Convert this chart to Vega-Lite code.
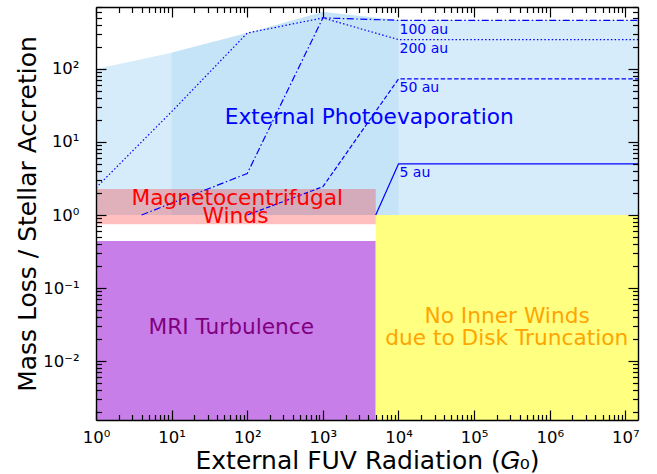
{
  "$schema": "https://vega.github.io/schema/vega-lite/v6.json",
  "width": 542,
  "height": 413,
  "autosize": "none",
  "padding": {"left": 96, "top": 7, "right": 19, "bottom": 54},
  "config": {
    "view": {"stroke": null},
    "font": "DejaVu Sans",
    "axis": {
      "grid": false,
      "ticks": true,
      "tickColor": "black",
      "domainColor": "black",
      "labelColor": "black",
      "titleColor": "black",
      "labelFont": "DejaVu Sans",
      "titleFont": "DejaVu Sans",
      "tickWidth": 1.2,
      "domainWidth": 1.4,
      "labelFlush": false,
      "labelOverlap": false,
      "labelBound": false,
      "titleFontWeight": "normal"
    }
  },
  "datasets": {
    "env": [
      {"x": 1, "top": 100},
      {"x": 10, "top": 167},
      {"x": 100, "top": 310},
      {"x": 1000, "top": 600},
      {"x": 10000, "top": 463},
      {"x": 14700000, "top": 463}
    ],
    "envInner": [
      {"x": 10, "top": 167},
      {"x": 100, "top": 310},
      {"x": 1000, "top": 600},
      {"x": 10000, "top": 463}
    ],
    "regions": [
      {"region": "MRI", "x": 1, "x2": 5000, "y": 0.001, "y2": 0.44},
      {"region": "truncation", "x": 5000, "x2": 14700000, "y": 0.001, "y2": 1},
      {"region": "MCW", "x": 1, "x2": 5000, "y": 0.746, "y2": 2.27}
    ],
    "tracks": [
      {"r": "100 au", "x": 4, "y": 1},
      {"r": "100 au", "x": 100, "y": 3.7},
      {"r": "100 au", "x": 1000, "y": 500},
      {"r": "100 au", "x": 10000, "y": 463},
      {"r": "100 au", "x": 14700000, "y": 463},
      {"r": "200 au", "x": 1, "y": 2.36},
      {"r": "200 au", "x": 10, "y": 26},
      {"r": "200 au", "x": 100, "y": 310},
      {"r": "200 au", "x": 1000, "y": 500},
      {"r": "200 au", "x": 10000, "y": 252},
      {"r": "200 au", "x": 14700000, "y": 252},
      {"r": "50 au", "x": 100, "y": 1.0},
      {"r": "50 au", "x": 1000, "y": 2.44},
      {"r": "50 au", "x": 10000, "y": 73},
      {"r": "50 au", "x": 14700000, "y": 73},
      {"r": "5 au", "x": 5000, "y": 1},
      {"r": "5 au", "x": 10000, "y": 5.0},
      {"r": "5 au", "x": 14700000, "y": 5.0}
    ],
    "trackLabels": [
      {"label": "100 au", "x": 10000, "y": 463},
      {"label": "200 au", "x": 10000, "y": 252},
      {"label": "50 au", "x": 10000, "y": 73},
      {"label": "5 au", "x": 10000, "y": 5.0}
    ],
    "labels": [
      {"group": "photo", "text": "External Photoevaporation", "x": 4115, "y": 17.6},
      {"group": "mcw", "text": "Magnetocentrifugal", "x": 74, "y": 1.37},
      {"group": "mcw", "text": "Winds", "x": 70, "y": 0.785},
      {"group": "mri", "text": "MRI Turbulence", "x": 61.5, "y": 0.0236},
      {"group": "trunc", "text": "No Inner Winds", "x": 273000, "y": 0.033},
      {"group": "trunc", "text": "due to Disk Truncation", "x": 270000, "y": 0.01666}
    ]
  },
  "resolve": {"axis": {"x": "independent", "y": "independent"}},
  "layer": [
    {
      "data": {"name": "env"},
      "mark": {"type": "area", "color": "#d7ecfa", "clip": true},
      "encoding": {
        "x": {"field": "x", "type": "quantitative",
          "scale": {"type": "log", "domain": [1, 14700000], "nice": false},
          "axis": {
            "orient": "bottom",
            "zindex": 2,
            "values": [1, 10, 100, 1000, 10000, 100000, 1000000, 10000000],
            "tickSize": -10,
            "domain": true,
            "labelExpr": "'10' + (round(log(datum.value)/LN10) < 0 ? '⁻' : '') + ['⁰','¹','²','³','⁴','⁵','⁶','⁷','⁸','⁹'][abs(round(log(datum.value)/LN10))]",
            "labelFontSize": 16.5,
            "labelPadding": 19,
            "title": "External FUV Radiation (𝐺₀)",
            "titleFontSize": 25,
            "titlePadding": 3
          }},
        "y": {"field": "top", "type": "quantitative",
          "scale": {"type": "log", "domain": [0.00156, 705], "nice": false},
          "axis": {
            "orient": "left",
            "zindex": 2,
            "values": [0.01, 0.1, 1, 10, 100],
            "tickSize": -10,
            "domain": true,
            "labelExpr": "'10' + (round(log(datum.value)/LN10) < 0 ? '⁻' : '') + ['⁰','¹','²','³','⁴','⁵','⁶','⁷','⁸','⁹'][abs(round(log(datum.value)/LN10))]",
            "labelFontSize": 16.5,
            "labelPadding": 27,
            "title": "Mass Loss / Stellar Accretion",
            "titleFontSize": 25,
            "titlePadding": 2
          }},
        "y2": {"datum": 1}
      }
    },
    {
      "data": {"name": "envInner"},
      "mark": {"type": "area", "color": "#c5e4f8", "clip": true},
      "encoding": {
        "x": {"field": "x", "type": "quantitative",
          "scale": {"type": "log", "domain": [1, 14700000], "nice": false},
          "axis": {
            "orient": "bottom",
            "zindex": 2,
            "values": [2,3,4,5,6,7,8,9,20,30,40,50,60,70,80,90,200,300,400,500,600,700,800,900,2000,3000,4000,5000,6000,7000,8000,9000,20000,30000,40000,50000,60000,70000,80000,90000,200000,300000,400000,500000,600000,700000,800000,900000,2000000,3000000,4000000,5000000,6000000,7000000,8000000,9000000],
            "tickSize": -5.5,
            "domain": false,
            "labels": false,
            "title": null
          }},
        "y": {"field": "top", "type": "quantitative",
          "scale": {"type": "log", "domain": [0.00156, 705], "nice": false},
          "axis": {
            "orient": "left",
            "zindex": 2,
            "values": [0.002,0.003,0.004,0.005,0.006,0.007,0.008,0.009,0.02,0.03,0.04,0.05,0.06,0.07,0.08,0.09,0.2,0.3,0.4,0.5,0.6,0.7,0.8,0.9,2,3,4,5,6,7,8,9,20,30,40,50,60,70,80,90,200,300,400,500,600,700],
            "tickSize": -5.5,
            "domain": false,
            "labels": false,
            "title": null
          }},
        "y2": {"datum": 1}
      }
    },
    {
      "data": {"name": "regions"},
      "transform": [{"filter": "datum.region != 'MCW'"}],
      "mark": {"type": "rect", "clip": true},
      "encoding": {
        "x": {"field": "x", "type": "quantitative",
          "scale": {"type": "log", "domain": [1, 14700000], "nice": false},
          "axis": {
            "orient": "top",
            "zindex": 2,
            "values": [1, 10, 100, 1000, 10000, 100000, 1000000, 10000000],
            "tickSize": -10,
            "domain": true,
            "labels": false,
            "title": null
          }},
        "x2": {"field": "x2"},
        "y": {"field": "y", "type": "quantitative",
          "scale": {"type": "log", "domain": [0.00156, 705], "nice": false},
          "axis": {
            "orient": "right",
            "zindex": 2,
            "values": [0.01, 0.1, 1, 10, 100],
            "tickSize": -10,
            "domain": true,
            "labels": false,
            "title": null
          }},
        "y2": {"field": "y2"},
        "color": {"field": "region", "type": "nominal",
          "scale": {"domain": ["MRI", "truncation"], "range": ["#c87ee9", "#ffff80"]},
          "legend": null}
      }
    },
    {
      "data": {"name": "regions"},
      "transform": [{"filter": "datum.region == 'MCW'"}],
      "mark": {"type": "rect", "color": "#ff0000", "opacity": 0.25, "clip": true},
      "encoding": {
        "x": {"field": "x", "type": "quantitative",
          "scale": {"type": "log", "domain": [1, 14700000], "nice": false}, "axis": null},
        "x2": {"field": "x2"},
        "y": {"field": "y", "type": "quantitative",
          "scale": {"type": "log", "domain": [0.00156, 705], "nice": false}, "axis": null},
        "y2": {"field": "y2"}
      }
    },
    {
      "data": {"name": "tracks"},
      "mark": {"type": "line", "color": "#0000ff", "strokeWidth": 1.2, "clip": true},
      "encoding": {
        "x": {"field": "x", "type": "quantitative",
          "scale": {"type": "log", "domain": [1, 14700000], "nice": false},
          "axis": {
            "orient": "top",
            "zindex": 2,
            "values": [2,3,4,5,6,7,8,9,20,30,40,50,60,70,80,90,200,300,400,500,600,700,800,900,2000,3000,4000,5000,6000,7000,8000,9000,20000,30000,40000,50000,60000,70000,80000,90000,200000,300000,400000,500000,600000,700000,800000,900000,2000000,3000000,4000000,5000000,6000000,7000000,8000000,9000000],
            "tickSize": -5.5,
            "domain": false,
            "labels": false,
            "title": null
          }},
        "y": {"field": "y", "type": "quantitative",
          "scale": {"type": "log", "domain": [0.00156, 705], "nice": false},
          "axis": {
            "orient": "right",
            "zindex": 2,
            "values": [0.002,0.003,0.004,0.005,0.006,0.007,0.008,0.009,0.02,0.03,0.04,0.05,0.06,0.07,0.08,0.09,0.2,0.3,0.4,0.5,0.6,0.7,0.8,0.9,2,3,4,5,6,7,8,9,20,30,40,50,60,70,80,90,200,300,400,500,600,700],
            "tickSize": -5.5,
            "domain": false,
            "labels": false,
            "title": null
          }},
        "strokeDash": {"field": "r", "type": "nominal",
          "scale": {"domain": ["100 au", "200 au", "50 au", "5 au"],
                    "range": [[7, 2.5, 1.5, 2.5], [1.5, 2.2], [4.5, 2.2], [1, 0]]},
          "legend": null}
      }
    },
    {
      "data": {"name": "trackLabels"},
      "mark": {"type": "text", "color": "#0000ff", "fontSize": 14, "align": "left", "baseline": "alphabetic", "dx": 1, "dy": 13.3},
      "encoding": {
        "x": {"field": "x", "type": "quantitative",
          "scale": {"type": "log", "domain": [1, 14700000], "nice": false}, "axis": null},
        "y": {"field": "y", "type": "quantitative",
          "scale": {"type": "log", "domain": [0.00156, 705], "nice": false}, "axis": null},
        "text": {"field": "label"}
      }
    },
    {
      "data": {"name": "labels"},
      "transform": [{"filter": "datum.group == 'photo'"}],
      "mark": {"type": "text", "color": "#0000ff", "fontSize": 21.7, "align": "center", "baseline": "alphabetic"},
      "encoding": {
        "x": {"field": "x", "type": "quantitative",
          "scale": {"type": "log", "domain": [1, 14700000], "nice": false}, "axis": null},
        "y": {"field": "y", "type": "quantitative",
          "scale": {"type": "log", "domain": [0.00156, 705], "nice": false}, "axis": null},
        "text": {"field": "text"}
      }
    },
    {
      "data": {"name": "labels"},
      "transform": [{"filter": "datum.group == 'mcw'"}],
      "mark": {"type": "text", "color": "#ff0000", "fontSize": 21.7, "align": "center", "baseline": "alphabetic"},
      "encoding": {
        "x": {"field": "x", "type": "quantitative",
          "scale": {"type": "log", "domain": [1, 14700000], "nice": false}, "axis": null},
        "y": {"field": "y", "type": "quantitative",
          "scale": {"type": "log", "domain": [0.00156, 705], "nice": false}, "axis": null},
        "text": {"field": "text"}
      }
    },
    {
      "data": {"name": "labels"},
      "transform": [{"filter": "datum.group == 'mri'"}],
      "mark": {"type": "text", "color": "#800080", "fontSize": 21.7, "align": "center", "baseline": "alphabetic"},
      "encoding": {
        "x": {"field": "x", "type": "quantitative",
          "scale": {"type": "log", "domain": [1, 14700000], "nice": false}, "axis": null},
        "y": {"field": "y", "type": "quantitative",
          "scale": {"type": "log", "domain": [0.00156, 705], "nice": false}, "axis": null},
        "text": {"field": "text"}
      }
    },
    {
      "data": {"name": "labels"},
      "transform": [{"filter": "datum.group == 'trunc'"}],
      "mark": {"type": "text", "color": "#ffa500", "fontSize": 21.7, "align": "center", "baseline": "alphabetic"},
      "encoding": {
        "x": {"field": "x", "type": "quantitative",
          "scale": {"type": "log", "domain": [1, 14700000], "nice": false}, "axis": null},
        "y": {"field": "y", "type": "quantitative",
          "scale": {"type": "log", "domain": [0.00156, 705], "nice": false}, "axis": null},
        "text": {"field": "text"}
      }
    }
  ]
}
